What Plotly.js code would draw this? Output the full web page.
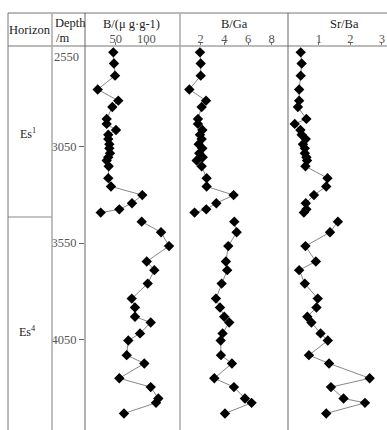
<!DOCTYPE html>
<html>
<head>
<meta charset="utf-8">
<script src="https://cdn.plot.ly/plotly-3.0.1.min.js"></script>
<style>html,body{margin:0;padding:0;background:#fff;}#chart{width:387px;height:430px;}</style>
</head>
<body>
<div id="chart"></div>
<script>
// ---- data ----
const depthEs1 = [2559,2617,2680,2752,2810,2843,2905,2931,2963,2987,3010,3037,3058,3083,3104,3121,3151,3213,3256,3301,3343,3375,3392];
const bEs1     = [46.1,47.2,48.9,20.7,54.2,44.5,35.3,35.3,50.5,37.9,37.9,39.6,39.6,40.7,37.9,35.3,38.6,37.9,42.3,93.3,76.5,55.9,25.6];
const bgaEs1   = [1.94,2.0,2.0,1.04,2.45,2.08,1.77,1.77,2.14,1.94,2.08,1.83,2.14,1.88,2.17,1.66,2.08,2.5,2.5,4.78,3.32,2.47,1.48];
const srbaEs1  = [0.42,0.45,0.42,0.37,0.37,0.33,0.6,0.23,0.41,0.45,0.58,0.49,0.55,0.55,0.6,0.62,0.57,1.27,1.23,0.84,0.58,0.6,0.52];

const depthEs4 = [3439,3494,3566,3646,3691,3761,3839,3885,3933,3963,4020,4057,4133,4176,4253,4299,4358,4381,4436];
const bEs4     = [92.3,123.8,136.8,100.5,112.9,102.1,76.1,81.4,81.4,107,89.6,70.5,67.9,96.6,55.9,107,119.4,115.6,63.5];
const bgaEs4   = [4.84,5.04,4.33,4.13,4.24,3.77,3.29,3.63,3.99,4.41,3.85,3.69,3.71,4.64,3.15,4.81,5.74,6.3,4.05];
const srbaEs4  = [1.6,1.35,0.57,0.9,0.37,0.55,0.96,0.92,0.63,0.76,1.05,1.28,0.68,1.32,2.61,1.38,1.78,2.46,1.23];

const depthTicks = [3050,3550,4050];
const depthExtraLabels = [2550,4550];
const bTicks = [50,100];
const bgaTicks = [2,4,6,8];
const srbaTicks = [1,2,3];
const columnTitles = ['B/(μ g·g-1)','B/Ga','Sr/Ba'];
const horizons = ['Es<sup>1</sup>','Es<sup>4</sup>'];

// ---- layout helpers ----
const W = 387, H = 430;
const px = v => v / W;
const py = v => 1 - v / H;
const FONT = "'Liberation Serif', 'Times New Roman', serif";
const lineStyle = {color:'#888', width:1};
const markerStyle = {symbol:'diamond', size:8, color:'#000'};

function series(x, y, xa) {
  return {x:x, y:y, xaxis:xa, yaxis:'y', type:'scatter', mode:'lines+markers',
          line:lineStyle, marker:markerStyle, hoverinfo:'skip', cliponaxis:false};
}
const traces = [
  series(bEs1, depthEs1, 'x'),  series(bEs4, depthEs4, 'x'),
  series(bgaEs1, depthEs1, 'x2'), series(bgaEs4, depthEs4, 'x2'),
  series(srbaEs1, depthEs1, 'x3'), series(srbaEs4, depthEs4, 'x3')
];

function topAxis(dom, range, ticks) {
  return {domain:[px(dom[0]), px(dom[1])], range:range, side:'top', anchor:'y',
          tickmode:'array', tickvals:ticks, ticks:'outside', ticklen:3, tickwidth:1,
          ticklabelstandoff:-6,
          tickcolor:'#777', showline:false, showgrid:false, zeroline:false,
          tickfont:{family:FONT, size:12.5, color:'#555'}, fixedrange:true};
}

function vline(x, y0, y1, color, width) {
  return {type:'line', xref:'paper', yref:'paper', x0:px(x), x1:px(x), y0:py(y0), y1:py(y1),
          line:{color:color, width:width}};
}
function hline(y, x0, x1, color, width) {
  return {type:'line', xref:'paper', yref:'paper', x0:px(x0), x1:px(x1), y0:py(y), y1:py(y),
          line:{color:color, width:width}};
}

const shapes = [
  hline(13, 8, 387, '#777', 1),
  hline(46, 8, 387, '#777', 1),
  hline(217, 8, 52, '#888', 1),
  vline(8, 13, 430, '#777', 1),
  vline(52, 13, 430, '#aaa', 1.5),
  vline(85, 13, 430, '#666', 1),
  vline(180, 13, 430, '#aaa', 1.5),
  vline(288, 13, 430, '#666', 1)
];

const txt = (text, x, y, size, color, extra) => Object.assign({
  text:text, xref:'paper', yref:'paper', x:px(x), y:py(y), showarrow:false,
  xanchor:'center', yanchor:'middle', font:{family:FONT, size:size, color:color}
}, extra || {});

const annotations = [
  txt('Horizon', 30, 30, 12.5, '#222'),
  txt('Depth', 53, 23, 12.5, '#222', {xanchor:'left'}),
  txt('/m', 54, 38.5, 12.5, '#222', {xanchor:'left'}),
  txt(columnTitles[0], 131, 24, 12.5, '#222'),
  txt(columnTitles[1], 234, 24, 12.5, '#222'),
  txt(columnTitles[2], 344, 24, 12.5, '#222'),
  txt(horizons[0], 28, 133, 12, '#222'),
  txt(horizons[1], 28, 331, 12, '#222')
];
depthExtraLabels.forEach((d, i) => {
  annotations.push({text:String(d), xref:'paper', yref:'y', x:px(52), y:d, showarrow:false,
    xanchor:'left', yanchor:'middle', yshift: i === 0 ? -6 : 0,
    font:{family:FONT, size:12.5, color:'#555'}});
});

const layout = {
  width:W, height:H, margin:{l:0, r:0, t:0, b:0}, paper_bgcolor:'#fff', plot_bgcolor:'rgba(0,0,0,0)',
  showlegend:false,
  xaxis: topAxis([85,180], [0,154.7], bTicks),
  xaxis2: topAxis([180,288], [0.25,9.38], bgaTicks),
  xaxis3: topAxis([288,387], [0.016,3.16], srbaTicks),
  yaxis: {domain:[0, py(46)], range:[4522, 2526], anchor:'x', side:'left',
          tickmode:'array', tickvals:depthTicks, ticks:'outside', ticklen:5, tickwidth:1,
          tickcolor:'#666', showline:false, showgrid:false, zeroline:false,
          tickfont:{family:FONT, size:12.5, color:'#555'}, fixedrange:true},
  shapes:shapes,
  annotations:annotations
};

Plotly.newPlot('chart', traces, layout, {displayModeBar:false, staticPlot:true});
</script>
</body>
</html>
